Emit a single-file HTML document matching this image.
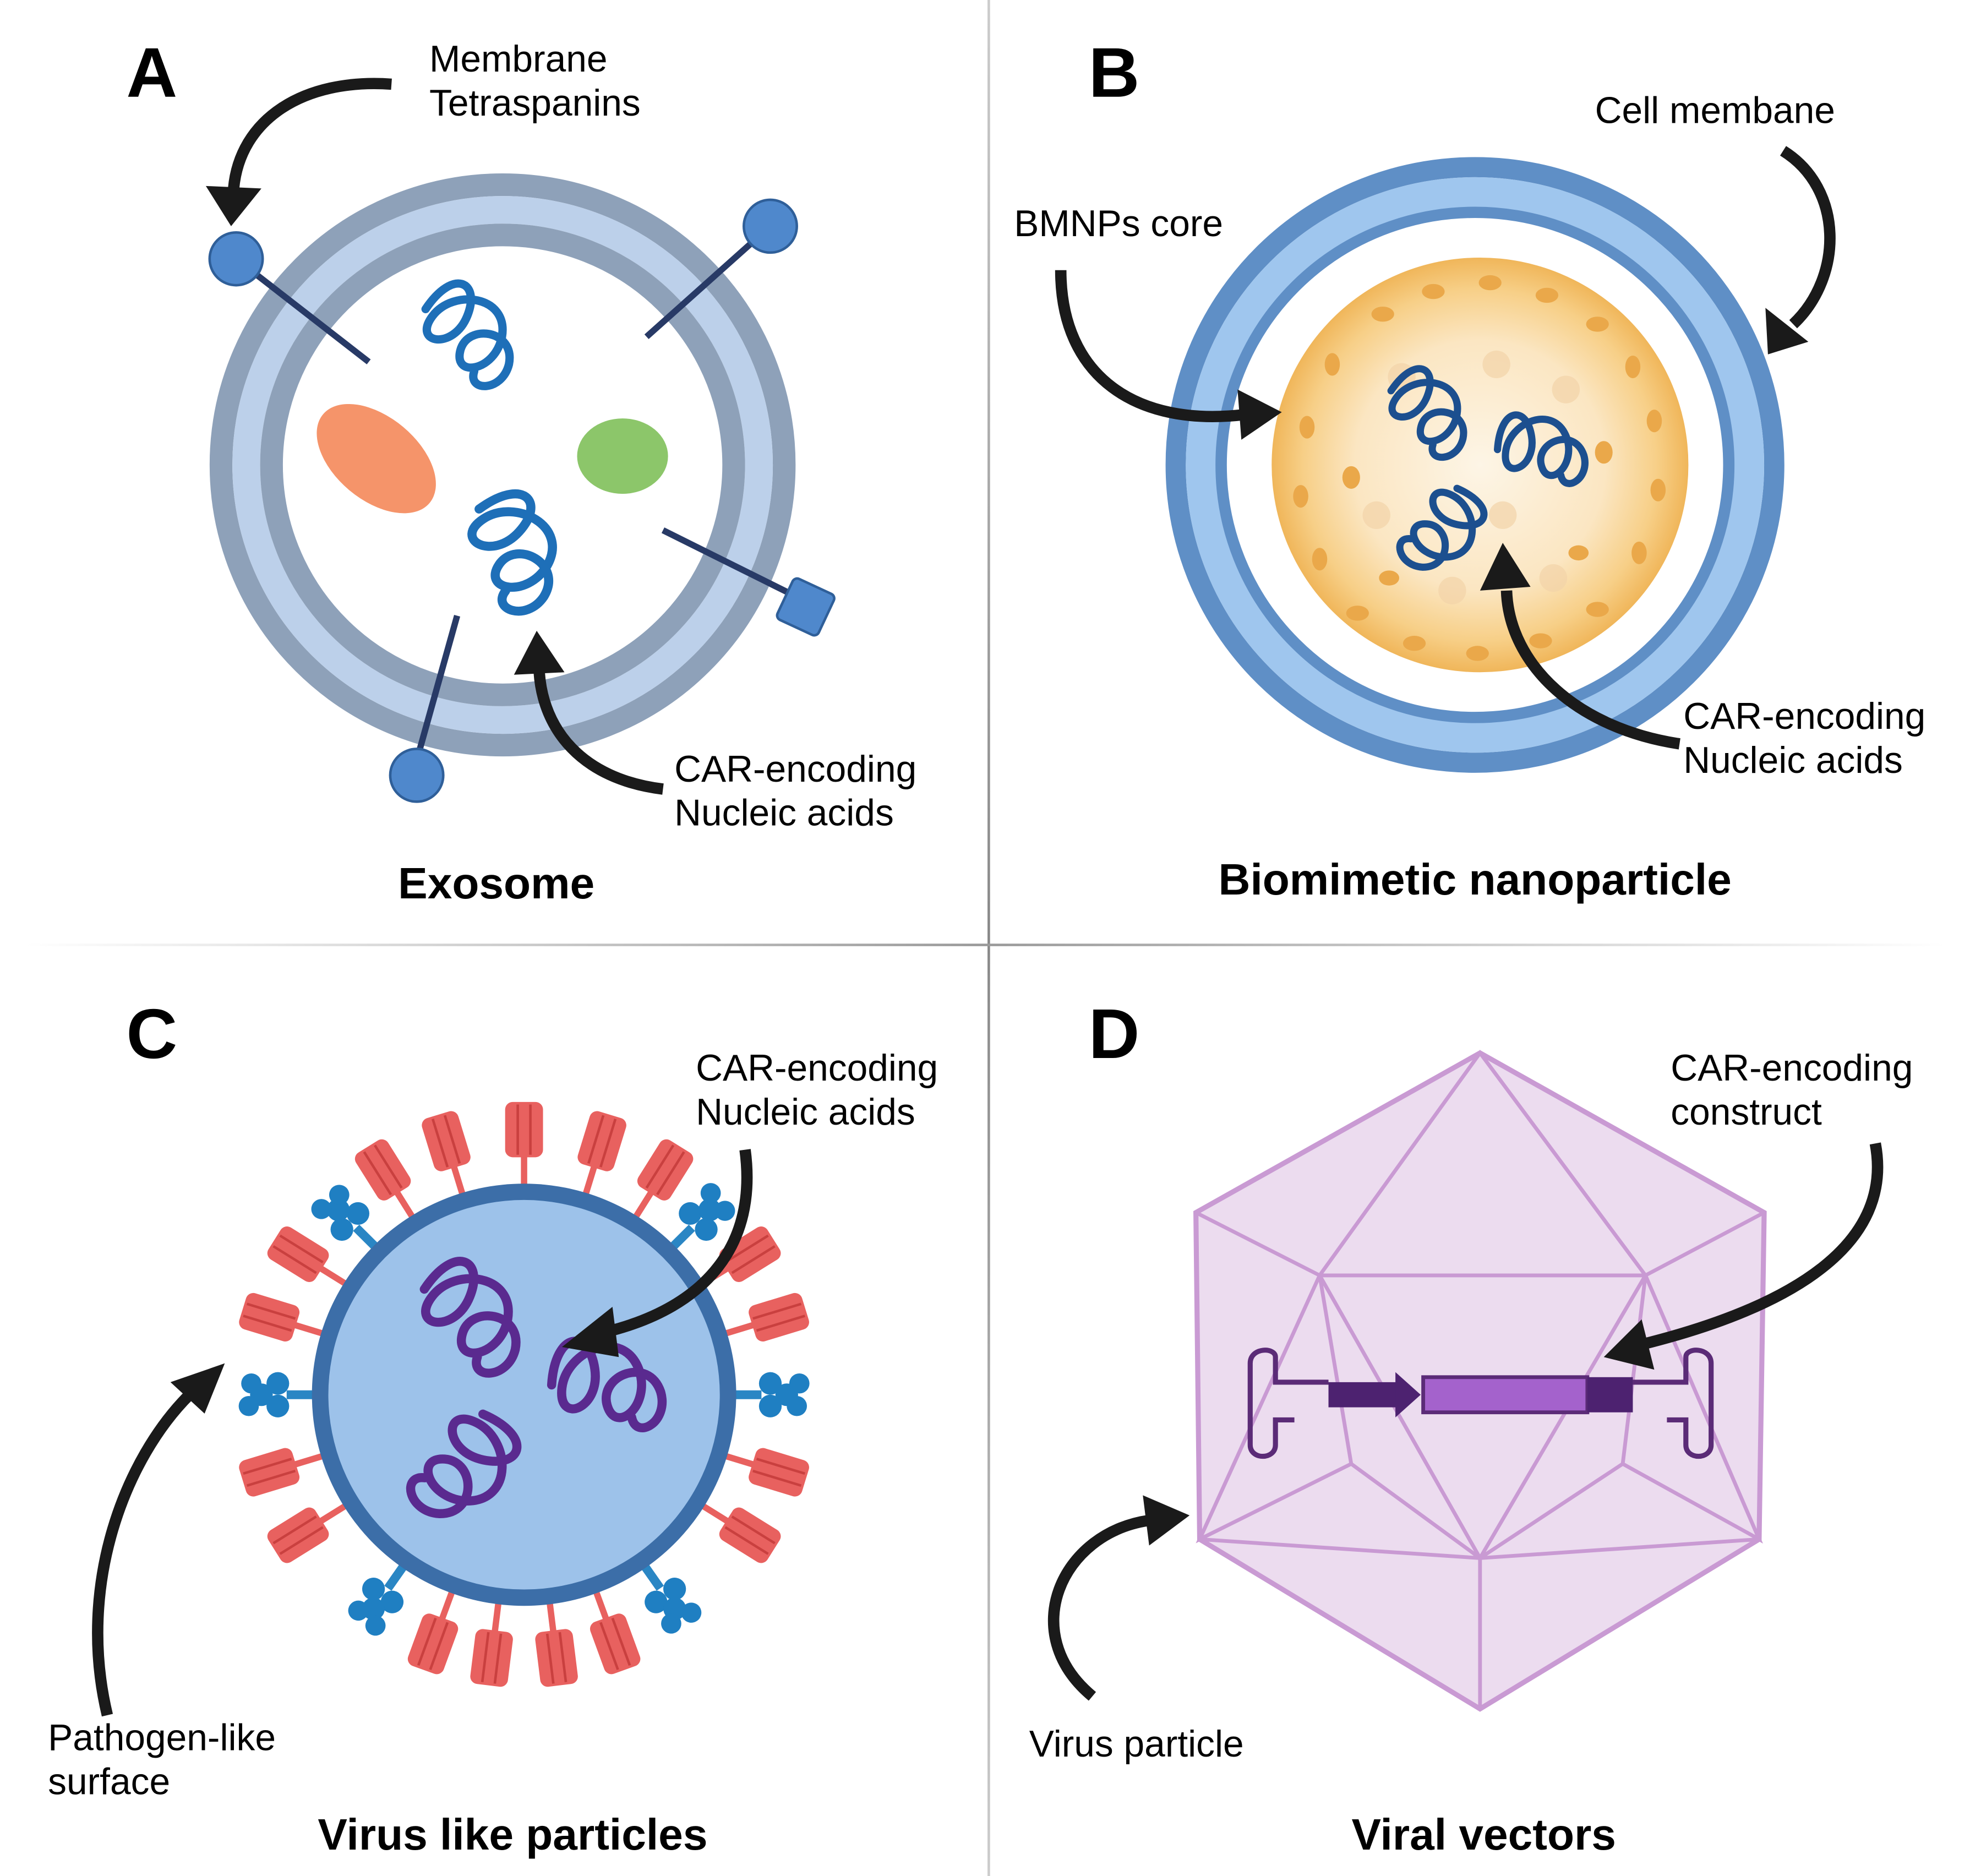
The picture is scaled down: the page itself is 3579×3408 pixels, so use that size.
<!DOCTYPE html>
<html><head><meta charset="utf-8"><style>
html,body{margin:0;padding:0;background:#fff}
svg{display:block}
text{font-family:"Liberation Sans",sans-serif}
</style></head><body>
<svg width="3579" height="3408" viewBox="0 0 1560 1493" preserveAspectRatio="none" xmlns="http://www.w3.org/2000/svg">
<defs>
<radialGradient id="core" cx="50%" cy="50%" r="50%">
<stop offset="0" stop-color="#fdf5e6"/><stop offset="0.6" stop-color="#fbe6c2"/><stop offset="0.85" stop-color="#f7cf87"/><stop offset="1" stop-color="#f0b65a"/></radialGradient>
<linearGradient id="hl" x1="0" x2="1"><stop offset="0" stop-color="#fff"/><stop offset="0.5" stop-color="#999"/><stop offset="1" stop-color="#fff"/></linearGradient>
<linearGradient id="vl" x1="0" x2="0" y1="0" y2="1"><stop offset="0" stop-color="#ccc"/><stop offset="0.5" stop-color="#888"/><stop offset="1" stop-color="#ccc"/></linearGradient>
<g id="spike"><line x1="0" y1="-165" x2="0" y2="-192" stroke="#e8615f" stroke-width="5"/>
<rect x="-15" y="-233" width="30" height="44" rx="6" fill="#e8615f"/>
<line x1="-5" y1="-231" x2="-5" y2="-191" stroke="#c9403f" stroke-width="2"/><line x1="5" y1="-231" x2="5" y2="-191" stroke="#c9403f" stroke-width="2"/></g>
<g id="blue"><line x1="0" y1="-165" x2="0" y2="-188" stroke="#2a86c4" stroke-width="7"/>
<circle cx="-9" cy="-195" r="9" fill="#1f7fc2"/><circle cx="9" cy="-195" r="9" fill="#1f7fc2"/><circle cx="0" cy="-208" r="9" fill="#1f7fc2"/><circle cx="-9" cy="-218" r="8" fill="#1f7fc2"/><circle cx="9" cy="-216" r="8" fill="#1f7fc2"/></g>
<g id="sq"><path d="M-30,-20 C-10,-50 10,-40 0,-15 C-10,10 -40,5 -25,-15 C-10,-35 30,-30 25,0 C20,25 -10,30 -5,10 C0,-10 35,-5 30,20 C25,40 0,40 5,25" fill="none" stroke-width="6" stroke-linecap="round"/></g>
</defs>
<rect width="1560" height="1493" fill="#fff"/>
<rect x="782" y="0" width="2" height="1493" fill="url(#vl)"/>
<rect x="20" y="751" width="1520" height="2" fill="url(#hl)"/>

<!-- A -->
<text x="100" y="77" font-size="56" font-weight="bold">A</text>
<text x="340" y="57" font-size="29.5">Membrane</text>
<text x="340" y="92" font-size="29.5">Tetraspanins</text>
<circle cx="398" cy="370" r="223" fill="none" stroke="#8ea1b9" stroke-width="18"/>
<circle cx="398" cy="370" r="203" fill="none" stroke="#bcd0ea" stroke-width="22"/>
<circle cx="398" cy="370" r="183" fill="none" stroke="#8ea1b9" stroke-width="18"/>
<g stroke="#283a66" stroke-width="5">
<line x1="187" y1="206" x2="292" y2="288"/><line x1="610" y1="180" x2="512" y2="268"/>
<line x1="525" y1="422" x2="625" y2="472"/><line x1="362" y1="490" x2="330" y2="605"/></g>
<circle cx="187" cy="206" r="21" fill="#4f88cc" stroke="#2f5f99" stroke-width="2"/>
<circle cx="610" cy="180" r="21" fill="#4f88cc" stroke="#2f5f99" stroke-width="2"/>
<circle cx="330" cy="617" r="21" fill="#4f88cc" stroke="#2f5f99" stroke-width="2"/>
<rect x="620" y="465" width="36" height="36" rx="4" fill="#4f88cc" stroke="#2f5f99" stroke-width="2" transform="rotate(25 638 483)"/>
<ellipse cx="298" cy="365" rx="55" ry="33" fill="#f5946a" transform="rotate(40 298 365)"/>
<ellipse cx="493" cy="363" rx="36" ry="30" fill="#8cc66a"/>
<use href="#sq" transform="translate(370,268) scale(1.1)" stroke="#1e6fb8"/>
<use href="#sq" transform="translate(405,440) scale(1.2) rotate(20)" stroke="#1e6fb8"/>
<path d="M310,67 C240,62 190,95 185,150" fill="none" stroke="#1a1a1a" stroke-width="9"/>
<polygon points="163,148 207,150 183,180" fill="#1a1a1a"/>
<path d="M525,628 C460,620 430,580 427,535" fill="none" stroke="#1a1a1a" stroke-width="9"/>
<polygon points="407,537 447,535 425,502" fill="#1a1a1a"/>
<text x="534" y="622" font-size="29.5">CAR-encoding</text>
<text x="534" y="657" font-size="29.5">Nucleic acids</text>
<text x="393" y="715" font-size="35" font-weight="bold" text-anchor="middle">Exosome</text>

<!-- B -->
<text x="862" y="77" font-size="56" font-weight="bold">B</text>
<text x="1263" y="98" font-size="29.5">Cell membane</text>
<text x="803" y="188" font-size="29.5">BMNPs core</text>
<circle cx="1168" cy="370" r="237" fill="none" stroke="#5f8fc6" stroke-width="16"/>
<circle cx="1168" cy="370" r="217" fill="none" stroke="#9fc6ee" stroke-width="24"/>
<circle cx="1168" cy="370" r="201" fill="none" stroke="#5f8fc6" stroke-width="9"/>
<circle cx="1172" cy="370" r="165" fill="url(#core)"/>
<g fill="#eaa84a">
<ellipse cx="1095" cy="250" rx="9" ry="6"/><ellipse cx="1135" cy="232" rx="9" ry="6"/><ellipse cx="1180" cy="225" rx="9" ry="6"/><ellipse cx="1225" cy="235" rx="9" ry="6"/><ellipse cx="1265" cy="258" rx="9" ry="6"/>
<ellipse cx="1055" cy="290" rx="6" ry="9"/><ellipse cx="1035" cy="340" rx="6" ry="9"/><ellipse cx="1030" cy="395" rx="6" ry="9"/><ellipse cx="1045" cy="445" rx="6" ry="9"/><ellipse cx="1075" cy="488" rx="9" ry="6"/>
<ellipse cx="1120" cy="512" rx="9" ry="6"/><ellipse cx="1170" cy="520" rx="9" ry="6"/><ellipse cx="1220" cy="510" rx="9" ry="6"/><ellipse cx="1265" cy="485" rx="9" ry="6"/><ellipse cx="1298" cy="440" rx="6" ry="9"/>
<ellipse cx="1313" cy="390" rx="6" ry="9"/><ellipse cx="1310" cy="335" rx="6" ry="9"/><ellipse cx="1293" cy="292" rx="6" ry="9"/>
<ellipse cx="1070" cy="380" rx="7" ry="9"/><ellipse cx="1270" cy="360" rx="7" ry="9"/><ellipse cx="1100" cy="460" rx="8" ry="6"/><ellipse cx="1250" cy="440" rx="8" ry="6"/></g>
<g fill="#f2d3a8" opacity="0.7"><circle cx="1110" cy="300" r="11"/><circle cx="1185" cy="290" r="11"/><circle cx="1240" cy="310" r="11"/><circle cx="1090" cy="410" r="11"/><circle cx="1190" cy="410" r="11"/><circle cx="1150" cy="470" r="11"/><circle cx="1230" cy="460" r="11"/></g>
<use href="#sq" transform="translate(1130,330) scale(0.95)" stroke="#1c4f8f"/>
<use href="#sq" transform="translate(1220,360) scale(0.95) rotate(-30)" stroke="#1c4f8f"/>
<use href="#sq" transform="translate(1140,420) scale(0.95) rotate(80)" stroke="#1c4f8f"/>
<path d="M1412,120 C1460,150 1460,220 1420,258" fill="none" stroke="#1a1a1a" stroke-width="9"/>
<polygon points="1398,245 1432,272 1400,282" fill="#1a1a1a"/>
<path d="M840,215 C840,300 900,340 985,330" fill="none" stroke="#1a1a1a" stroke-width="9"/>
<polygon points="980,310 1015,328 983,350" fill="#1a1a1a"/>
<path d="M1330,592 C1250,580 1195,530 1193,470" fill="none" stroke="#1a1a1a" stroke-width="9"/>
<polygon points="1172,470 1212,467 1190,432" fill="#1a1a1a"/>
<text x="1333" y="580" font-size="29.5">CAR-encoding</text>
<text x="1333" y="615" font-size="29.5">Nucleic acids</text>
<text x="1168" y="712" font-size="35" font-weight="bold" text-anchor="middle">Biomimetic nanoparticle</text>

<!-- C -->
<text x="100" y="842" font-size="56" font-weight="bold">C</text>
<text x="551" y="860" font-size="29.5">CAR-encoding</text>
<text x="551" y="895" font-size="29.5">Nucleic acids</text>
<g transform="translate(415,1110)">
<use href="#spike" transform="rotate(0)"/><use href="#spike" transform="rotate(17)"/><use href="#spike" transform="rotate(-17)"/>
<use href="#spike" transform="rotate(32)"/><use href="#spike" transform="rotate(-32)"/><use href="#spike" transform="rotate(58)"/><use href="#spike" transform="rotate(-58)"/>
<use href="#spike" transform="rotate(73)"/><use href="#spike" transform="rotate(-73)"/><use href="#spike" transform="rotate(107)"/><use href="#spike" transform="rotate(-107)"/>
<use href="#spike" transform="rotate(122)"/><use href="#spike" transform="rotate(-122)"/><use href="#spike" transform="rotate(160)"/><use href="#spike" transform="rotate(-160)"/>
<use href="#spike" transform="rotate(173)"/><use href="#spike" transform="rotate(-173)"/>
<use href="#blue" transform="rotate(45)"/><use href="#blue" transform="rotate(-45)"/><use href="#blue" transform="rotate(90)"/><use href="#blue" transform="rotate(-90)"/>
<use href="#blue" transform="rotate(145)"/><use href="#blue" transform="rotate(-145)"/>
<circle r="168" fill="#3c6ea8"/><circle r="155" fill="#9dc2ea"/>
</g>
<use href="#sq" transform="translate(372,1050) scale(1.2)" stroke="#5a2a8f"/>
<use href="#sq" transform="translate(480,1105) scale(1.2) rotate(-30)" stroke="#5a2a8f"/>
<use href="#sq" transform="translate(365,1165) scale(1.2) rotate(80)" stroke="#5a2a8f"/>
<path d="M590,915 C600,990 560,1040 480,1060" fill="none" stroke="#1a1a1a" stroke-width="9"/>
<polygon points="485,1040 445,1072 490,1080" fill="#1a1a1a"/>
<path d="M85,1365 C60,1260 100,1160 150,1110" fill="none" stroke="#1a1a1a" stroke-width="9"/>
<polygon points="135,1100 178,1085 162,1125" fill="#1a1a1a"/>
<text x="38" y="1393" font-size="29.5">Pathogen-like</text>
<text x="38" y="1428" font-size="29.5">surface</text>
<text x="406" y="1472" font-size="35" font-weight="bold" text-anchor="middle">Virus like particles</text>

<!-- D -->
<text x="862" y="842" font-size="56" font-weight="bold">D</text>
<text x="1323" y="860" font-size="29.5">CAR-encoding</text>
<text x="1323" y="895" font-size="29.5">construct</text>
<polygon points="1172,838 1397,965 1393,1225 1172,1360 950,1225 947,965" fill="#ecdcef" stroke="#c99ad3" stroke-width="4"/>
<g stroke="#c99ad3" stroke-width="3" fill="none">
<polyline points="947,965 1045,1015 1172,838 1303,1015 1397,965"/>
<line x1="1045" y1="1015" x2="1303" y2="1015"/>
<polyline points="1045,1015 950,1225 1070,1165 1045,1015"/>
<polyline points="1303,1015 1393,1225 1285,1165 1303,1015"/>
<polyline points="1045,1015 1172,1240 1303,1015"/>
<polyline points="1070,1165 1172,1240 1285,1165"/>
<line x1="1172" y1="1240" x2="1172" y2="1360"/>
<line x1="950" y1="1225" x2="1172" y2="1240"/><line x1="1393" y1="1225" x2="1172" y2="1240"/>
</g>
<g fill="none" stroke="#5b2b77" stroke-width="4">
<path d="M1052,1100 L1010,1100 L1010,1080 C1010,1072 990,1072 990,1085 L990,1150 C990,1162 1010,1162 1010,1150 L1010,1130 L1025,1130"/>
<path d="M1293,1100 L1335,1100 L1335,1080 C1335,1072 1355,1072 1355,1085 L1355,1150 C1355,1162 1335,1162 1335,1150 L1335,1130 L1320,1130"/>
</g>
<rect x="1052" y="1100" width="55" height="20" fill="#4d2270"/>
<polygon points="1105,1092 1125,1110 1105,1128" fill="#4d2270"/>
<rect x="1127" y="1096" width="130" height="28" fill="#a462cc" stroke="#5b2b77" stroke-width="3"/>
<rect x="1257" y="1096" width="36" height="28" fill="#4d2270"/>
<path d="M1485,910 C1500,990 1420,1040 1300,1070" fill="none" stroke="#1a1a1a" stroke-width="9"/>
<polygon points="1300,1050 1270,1080 1310,1090" fill="#1a1a1a"/>
<path d="M865,1350 C805,1300 840,1220 910,1210" fill="none" stroke="#1a1a1a" stroke-width="9"/>
<polygon points="905,1190 942,1206 910,1230" fill="#1a1a1a"/>
<text x="815" y="1398" font-size="29.5">Virus particle</text>
<text x="1175" y="1472" font-size="35" font-weight="bold" text-anchor="middle">Viral vectors</text>
</svg>
</body></html>
